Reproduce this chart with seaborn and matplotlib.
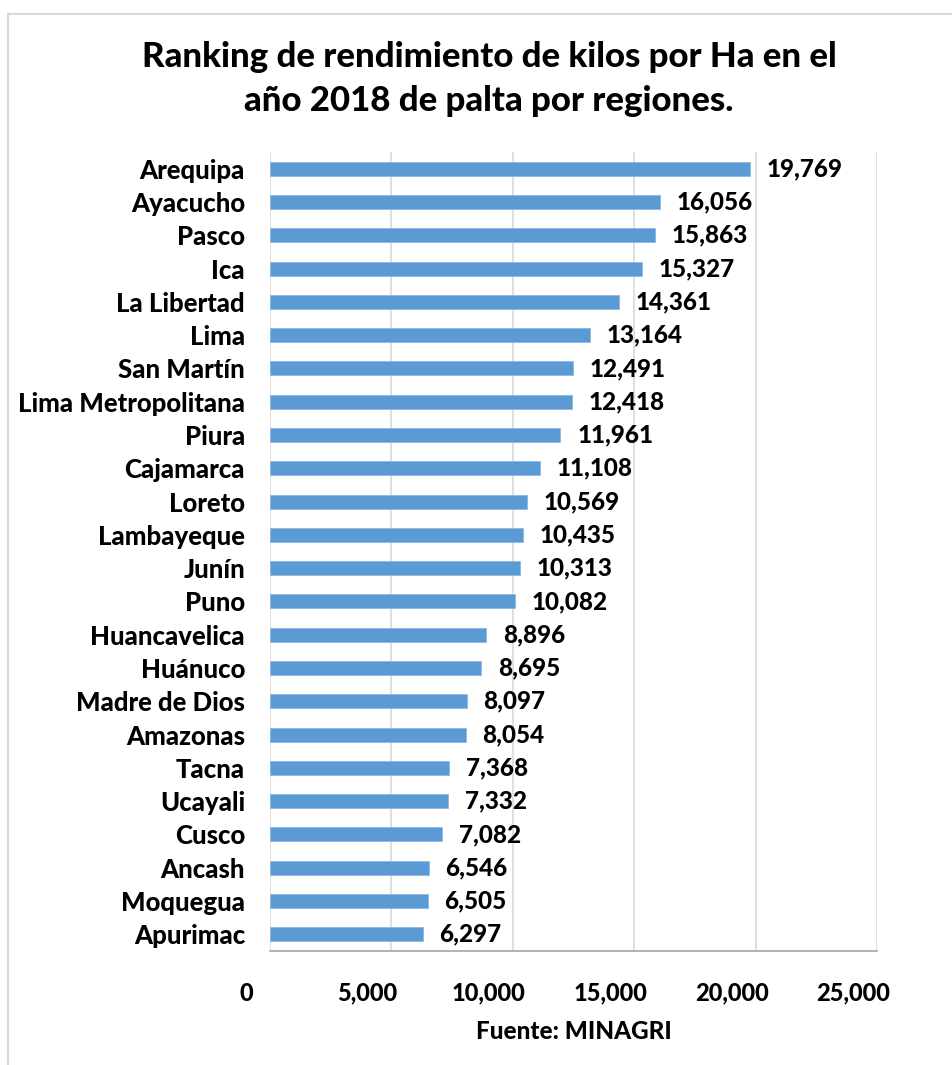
import matplotlib
matplotlib.use("Agg")
import matplotlib.pyplot as plt
import matplotlib.transforms as mtransforms
import seaborn as sns
import pandas as pd
from matplotlib.patches import Rectangle
from matplotlib.ticker import FuncFormatter

regions = ["Arequipa", "Ayacucho", "Pasco", "Ica", "La Libertad", "Lima", "San Martín",
           "Lima Metropolitana", "Piura", "Cajamarca", "Loreto", "Lambayeque", "Junín",
           "Puno", "Huancavelica", "Huánuco", "Madre de Dios", "Amazonas", "Tacna",
           "Ucayali", "Cusco", "Ancash", "Moquegua", "Apurimac"]
values = [19769, 16056, 15863, 15327, 14361, 13164, 12491, 12418, 11961, 11108, 10569,
          10435, 10313, 10082, 8896, 8695, 8097, 8054, 7368, 7332, 7082, 6546, 6505, 6297]
x_ticks = [0, 5000, 10000, 15000, 20000, 25000]

sns.set_theme(style="white")
plt.rcParams['font.family'] = ['Lato', 'DejaVu Sans']
plt.rcParams['text.color'] = 'black'
plt.rcParams['axes.labelcolor'] = 'black'
plt.rcParams['xtick.color'] = 'black'
plt.rcParams['ytick.color'] = 'black'

W = "black"

df = pd.DataFrame({"region": regions, "value": values})

fig = plt.figure(figsize=(9.53, 10.65), dpi=100)
ax = fig.add_axes([270/953, 1-951/1065, (877-270)/953, (951-152)/1065])

sns.barplot(data=df, x="value", y="region", color="#5B9BD5", saturation=1, width=0.42,
            edgecolor="#8DB8E3", linewidth=0.6, ax=ax, zorder=3)

ax.set_xlim(0, 25000)
ax.set_xticks(x_ticks)
ax.xaxis.set_major_formatter(FuncFormatter(lambda v, p: f"{int(v):,}"))
ax.grid(axis="x", color="#D9D9D9", linewidth=1.2, zorder=0)
ax.set_axisbelow(True)
for s in ["top", "right", "left"]:
    ax.spines[s].set_visible(False)
ax.spines["bottom"].set_color("#A6A6A6")
ax.spines["bottom"].set_linewidth(1.2)
ax.tick_params(axis="x", length=7, width=1.2, color="#A6A6A6", pad=15,
               labelsize=17, labelcolor="black")
ax.tick_params(axis="y", length=0, pad=18, labelsize=18.5, labelcolor="black")
shift = mtransforms.ScaledTranslation(-24/100, 0, fig.dpi_scale_trans)
for lbl in ax.get_xticklabels():
    lbl.set_fontweight(W)
    lbl.set_transform(lbl.get_transform() + shift)
for lbl in ax.get_yticklabels():
    lbl.set_fontweight(W)

ax.set_ylabel("")
ax.set_xlabel("Fuente: MINAGRI", fontsize=17.5, fontweight=W, labelpad=11)

for i, v in enumerate(values):
    ax.annotate(f"{v:,}", xy=(v, i), xytext=(12, 0), textcoords="offset points",
                va="center", ha="left", fontsize=17.5, fontweight=W, color="black")

fig.text(0.513, 1-57/1065, "Ranking de rendimiento de kilos por Ha en el",
         ha="center", va="center", fontsize=25, fontweight=W)
fig.text(0.513, 1-101/1065, "año 2018 de palta por regiones.",
         ha="center", va="center", fontsize=25, fontweight=W)

fig.patches.append(Rectangle((8/953, -0.01), 1.0, 1-14/1065 + 0.01,
                             transform=fig.transFigure, fill=False,
                             edgecolor="#D9D9D9", linewidth=1.5))

fig.savefig("out.png", dpi=100, facecolor="white")
